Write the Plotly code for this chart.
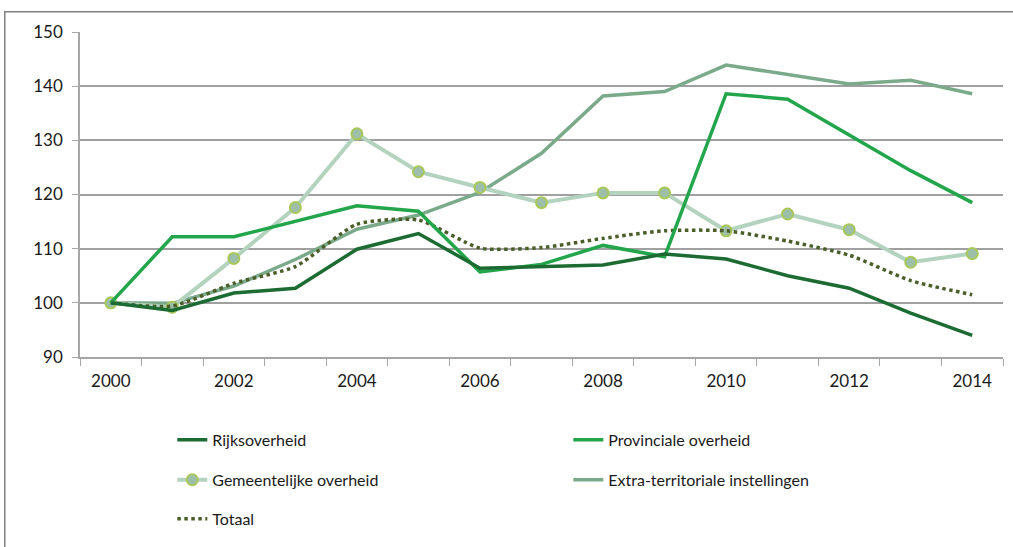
import plotly.graph_objects as go

# Data (index, 2000 = 100)
years = list(range(2000, 2015))
rijks = [100, 98.6, 101.8, 102.7, 109.9, 112.8, 106.4, 106.7, 107.0, 109.0, 108.1, 105.0, 102.7, 98.1, 94.0]
provinciaal = [100, 112.2, 112.2, 115.0, 117.9, 116.9, 105.7, 107.1, 110.6, 108.5, 138.6, 137.6, 131.0, 124.4, 118.5]
gemeentelijk = [100, 99.2, 108.2, 117.6, 131.2, 124.2, 121.3, 118.5, 120.3, 120.3, 113.3, 116.4, 113.5, 107.5, 109.1]
extra = [100, 99.9, 103.1, 108.0, 113.6, 116.2, 120.4, 127.6, 138.2, 139.0, 143.9, 142.2, 140.4, 141.1, 138.6]
totaal = [100, 99.4, 103.6, 106.7, 114.5, 115.3, 110.1, 110.2, 111.9, 113.3, 113.3, 111.4, 108.8, 104.1, 101.5]
label_years = list(range(2000, 2015, 2))

fig = go.Figure()

# Create the lines
fig.add_trace(go.Scatter(
    x=years, y=extra, name="Extra-territoriale instellingen", mode="lines",
    line=dict(color="#7BAA8B", width=3.5), legend="legend2",
))
fig.add_trace(go.Scatter(
    x=years, y=gemeentelijk, name="Gemeentelijke overheid", mode="lines+markers",
    line=dict(color="#B3D3BF", width=4),
    marker=dict(size=11, color="#9DBFA9", line=dict(color="#A9C85A", width=2)),
    legend="legend2",
))
fig.add_trace(go.Scatter(
    x=years, y=totaal, name="Totaal", mode="lines",
    line=dict(color="#4B5E2A", width=3.5, dash="dot", shape="spline", smoothing=0.6),
    legend="legend3",
))
fig.add_trace(go.Scatter(
    x=years, y=provinciaal, name="Provinciale overheid", mode="lines",
    line=dict(color="#23A64B", width=3.5),
))
fig.add_trace(go.Scatter(
    x=years, y=rijks, name="Rijksoverheid", mode="lines",
    line=dict(color="#1C6B33", width=3.5),
))

legend_style = dict(
    orientation="h", xanchor="left", yanchor="middle", x=0.1,
    entrywidth=351, entrywidthmode="pixels",
    font=dict(family="Lato", size=16, color="#1A1A1A"),
    bgcolor="rgba(0,0,0,0)",
)

# Customize layout
fig.update_layout(
    width=1013, height=547,
    margin=dict(l=80, r=10, t=32, b=190),
    plot_bgcolor="white", paper_bgcolor="white",
    font=dict(family="Lato", size=17, color="#1A1A1A"),
    legend=dict(legend_style, y=-0.255, traceorder="reversed"),
    legend2=dict(legend_style, y=-0.378, traceorder="reversed"),
    legend3=dict(legend_style, y=-0.498),
    xaxis=dict(
        range=[1999.5, 2014.5], tickvals=label_years, ticks="",
        showline=True, linecolor="#A6A6A6", linewidth=1.5,
        showgrid=False, zeroline=False,
        minor=dict(ticks="outside", ticklen=7, tickcolor="#A6A6A6", tick0=1999.5, dtick=1, showgrid=False),
        ticklabelstandoff=8,
    ),
    yaxis=dict(
        range=[90, 150], dtick=10, ticks="outside", ticklen=6, tickcolor="#A6A6A6",
        showline=True, linecolor="#A6A6A6", linewidth=1.5,
        gridcolor="#A0A0A0", gridwidth=1.5, zeroline=False,
        ticklabelstandoff=6,
    ),
    showlegend=True,
)

# Outer chart frame
fig.add_shape(type="rect", xref="paper", yref="paper",
              x0=-0.0815, x1=1.03, y0=-0.7, y1=1.062,
              line=dict(color="#7F7F7F", width=1.5), layer="below")

fig.write_html("out.html", config={"displayModeBar": False},
               post_script="document.body.style.margin='0';")
